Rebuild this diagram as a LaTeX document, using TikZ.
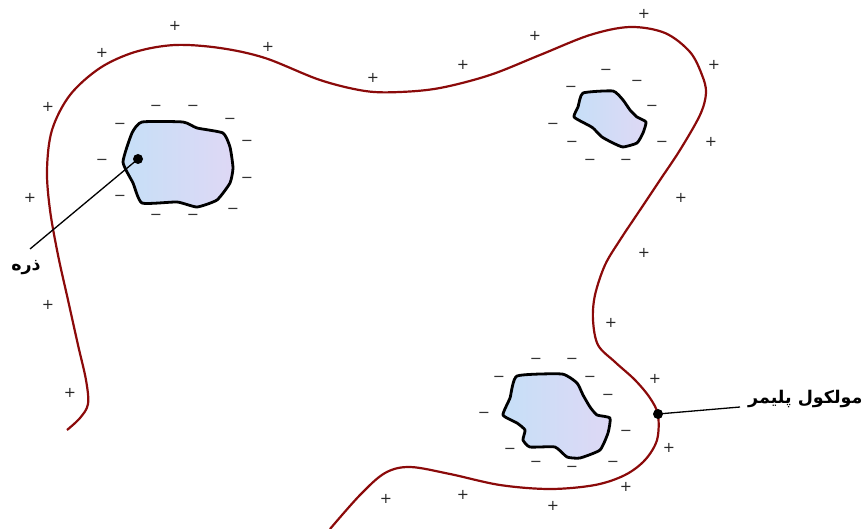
\documentclass[tikz,border=0pt]{standalone}
\usepackage{fontspec}
\newfontfamily\arabicfont[Script=Arabic]{DejaVu Sans}
\newfontfamily\signfont{DejaVu Sans}
\TeXXeTstate=1

\definecolor{polyred}{HTML}{8B0A0A}
\definecolor{grainblue}{HTML}{C6DFF7}
\definecolor{grainlilac}{HTML}{DED8F5}

\tikzset{
  polymer/.style={draw=polyred, line width=2.2pt},
  grain/.style={draw=black, line width=2.8pt, line join=round, left color=grainblue, right color=grainlilac},
  poscharge/.style={text=black!85, font=\signfont\fontsize{14.5}{14}\selectfont, inner sep=0pt},
  negcharge/.style={text=black!80, font=\signfont\fontsize{14.5}{14}\selectfont, inner sep=0pt},
  dotnode/.style={circle, fill=black, inner sep=0pt, minimum size=10pt},
  farsi/.style={font=\arabicfont\bfseries\fontsize{17.5}{20}\selectfont, inner sep=0pt}
}

\begin{document}
\begin{tikzpicture}[x=1pt, y=-1pt]
\useasboundingbox (0,0) rectangle (866,529);

% polymer chain
\draw[polymer] plot[smooth, tension=0.55] coordinates {
  (67,430) (80,418) (88,404) (86,380) (78,345) (68,300) (58,255) (50,210)
  (47,170) (52,130) (70,95) (100,68) (135,52) (175,45) (220,48) (265,58)
  (320,80) (365,91) (400,92) (440,88) (490,75) (540,55) (590,35) (630,27)
  (665,33) (690,52) (702,75) (706,93) (700,115) (680,150) (660,180) (640,210)
  (620,240) (605,265) (595,295) (593,320) (598,345) (615,362) (635,380)
  (650,398) (658,415) (657,440) (645,460) (625,475) (595,485) (550,489)
  (500,485) (450,474) (410,467) (385,473) (360,495) (330,529)};

% particles
\draw[grain] plot[smooth cycle, tension=0.3] coordinates {
  (142,122) (183,122) (197,128) (223,133) (230,147) (233,168) (230,183)
  (217,200) (197,207) (177,202) (142,203) (133,183) (123,162) (132,133)};
\draw[grain] plot[smooth cycle, tension=0.3] coordinates {
  (583,93) (613,91) (623,100) (630,110) (637,117) (646,122) (643,133)
  (637,143) (623,147) (613,143) (602,137) (593,128) (588,125) (574,117) (578,107)};
\draw[grain] plot[smooth cycle, tension=0.3] coordinates {
  (517,376) (562,374) (577,383) (583,395) (590,407) (597,415) (610,418)
  (608,433) (600,450) (580,458) (567,457) (555,447) (530,447) (523,440)
  (525,430) (517,423) (503,415) (510,398)};

% positive charges along the chain
\foreach \x/\y [count=\i] in {175/26, 102/53, 268/47, 373/78, 463/65, 535/36,
  644/14, 714/65, 48/107, 711/142, 30/198, 681/198, 644/253, 48/305, 611/323,
  70/393, 655/379, 669/448, 626/487, 553/506, 463/495, 386/499} {
\node[poscharge] (plus\i) at (\x,\y) {+};
}

% negative charges round the particles
\foreach \x/\y [count=\i] in {156/108, 193/108, 120/126, 230/121, 102/162,
  247/143, 120/198, 247/180, 156/217, 193/217, 233/211,
  606/72, 637/83, 571/89, 652/108, 553/126, 572/144, 662/144, 590/162, 626/162,
  536/361, 572/361, 499/379, 590/379, 484/415, 608/397, 626/433, 510/451,
  536/464, 572/469, 613/464} {
\node[negcharge] (minus\i) at (\x,\y) {−};
}

% labels
\node[dotnode] (grainDot) at (138,159) {};
\coordinate (grainTip) at (30,249);
\node[farsi] (grainLbl) at (26,268) {\beginR ذره\endR};
\draw[line width=1.3pt] (grainDot.center) -- (grainTip);

\node[dotnode] (chainDot) at (658,414) {};
\coordinate (chainTip) at (740,407);
\node[farsi, anchor=west] (chainLbl) at (748,399) {\beginR مولکول پلیمر\endR};
\draw[line width=1.3pt] (chainDot.center) -- (chainTip);
\end{tikzpicture}
\end{document}
